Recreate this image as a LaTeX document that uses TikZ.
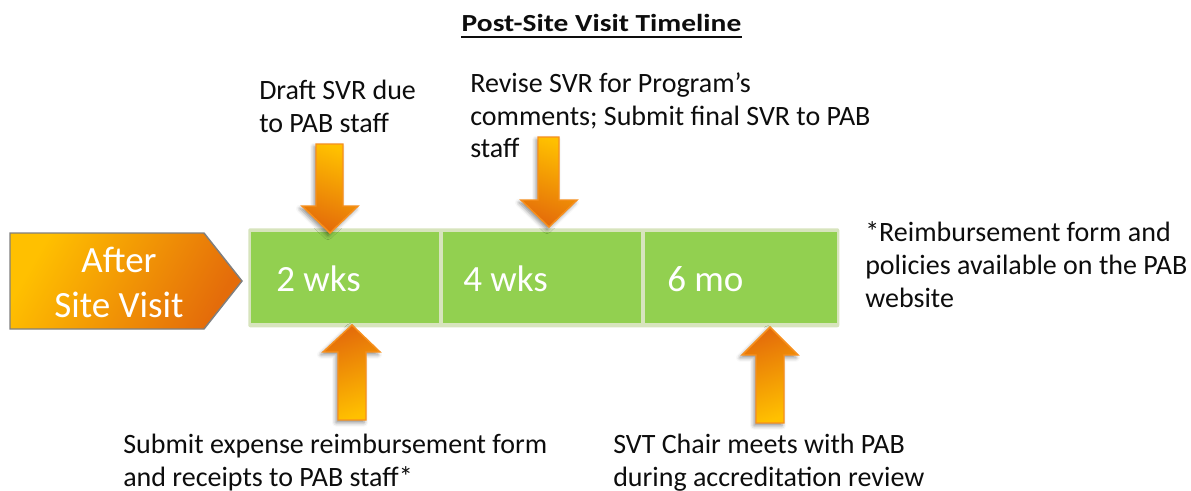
\documentclass[tikz,border=0pt]{standalone}
\usepackage{fontspec}
\usepackage{graphicx}
\setmainfont{Carlito}
\usetikzlibrary{shadows.blur}
\definecolor{grn}{HTML}{92D050}
\definecolor{grnedge}{HTML}{D7E4BD}
\definecolor{ylw}{HTML}{FFC000}
\definecolor{dorg}{HTML}{E46C0A}
\definecolor{aedge}{HTML}{F7901E}
\definecolor{pedge}{HTML}{7F7F7F}
\definecolor{txt}{HTML}{0D0D0D}
\begin{document}
\begin{tikzpicture}[x=0.75pt,y=-0.75pt,
  lbl/.style={font=\fontsize{21}{24.4}\selectfont, text=txt, anchor=base west, inner sep=0pt, align=left},
  big/.style={font=\fontsize{27.75}{33.75}\selectfont, text=white, inner sep=0pt},
  gbox/.style={fill=grn, draw=none, inner sep=0pt, anchor=north west, minimum height=68.25pt},
  barrow/.style={draw=aedge, line width=1.1pt, line join=miter,
    blur shadow={shadow xshift=-1.5pt, shadow yshift=-2pt, shadow blur radius=3pt, shadow opacity=45}},
  downarrow/.style={barrow, top color=ylw, bottom color=dorg, shading angle=-20},
  uparrow/.style={barrow, top color=dorg, bottom color=ylw, shading angle=20},
]
\useasboundingbox (0,0) rectangle (1191,490);
\clip (0,0) rectangle (1191,490);

% title
\node[font=\fontsize{18.4}{22}\selectfont\bfseries, text=txt, inner sep=0pt, anchor=base] (title) at (601.5,31) {\scalebox{1.2}[1]{Post-Site Visit Timeline}};
\draw[line width=1.5pt, txt] ([yshift=-4.6pt]title.base west) -- ([yshift=-4.6pt]title.base east);

% start pentagon
\path[draw=pedge, line width=1.1pt, top color=ylw, bottom color=dorg, shading angle=60]
  (10,233) -- (204,233) -- (242,281) -- (204,329) -- (10,329) -- cycle;
\node[big, align=center, anchor=base] (after) at (119,317) {After\\Site Visit};

% timeline bar
\node[fill=grnedge, rounded corners=1.5pt, inner sep=0pt, anchor=north west,
  minimum width=443.25pt, minimum height=74.25pt] (bar) at (248,228) {};
\node[gbox, minimum width=141pt] (b1) at (251,232) {};
\node[gbox, minimum width=148.5pt] (b2) at (443,232) {};
\node[gbox, minimum width=144pt] (b3) at (645,232) {};
\node[big, anchor=base west] (t1) at (276,291) {2 wks};
\node[big, anchor=base west] (t2) at (463,291) {4 wks};
\node[big, anchor=base west] (t3) at (667,291) {6 mo};

% arrows
\path[downarrow] (316,144) -- (343,144) -- (343,206) -- (358,206) -- (330,233) -- (302,206) -- (316,206) -- cycle;
\path[downarrow] (538,137) -- (559,137) -- (559,200) -- (577,200) -- (549,227) -- (521,200) -- (538,200) -- cycle;
\path[uparrow] (338,420) -- (366,420) -- (366,352) -- (380,352) -- (352,325) -- (323,352) -- (338,352) -- cycle;
\path[uparrow] (756,423) -- (784,423) -- (784,355) -- (798,355) -- (770,327) -- (742,355) -- (756,355) -- cycle;

% labels (anchor = baseline of the last line)
\node[lbl] (draft) at (259,132.5) {Draft SVR due\\to PAB staff};
\node[lbl] (revise) at (470,157.7) {Revise SVR for Program’s\\comments; Submit final SVR to PAB\\staff};
\node[lbl] (submit) at (123,486) {Submit expense reimbursement form\\and receipts to PAB staff*};
\node[lbl] (svt) at (613,486) {SVT Chair meets with PAB\\during accreditation review};
\node[lbl] (note) at (865,307) {*Reimbursement form and\\policies available on the PAB\\website};
\end{tikzpicture}
\end{document}
